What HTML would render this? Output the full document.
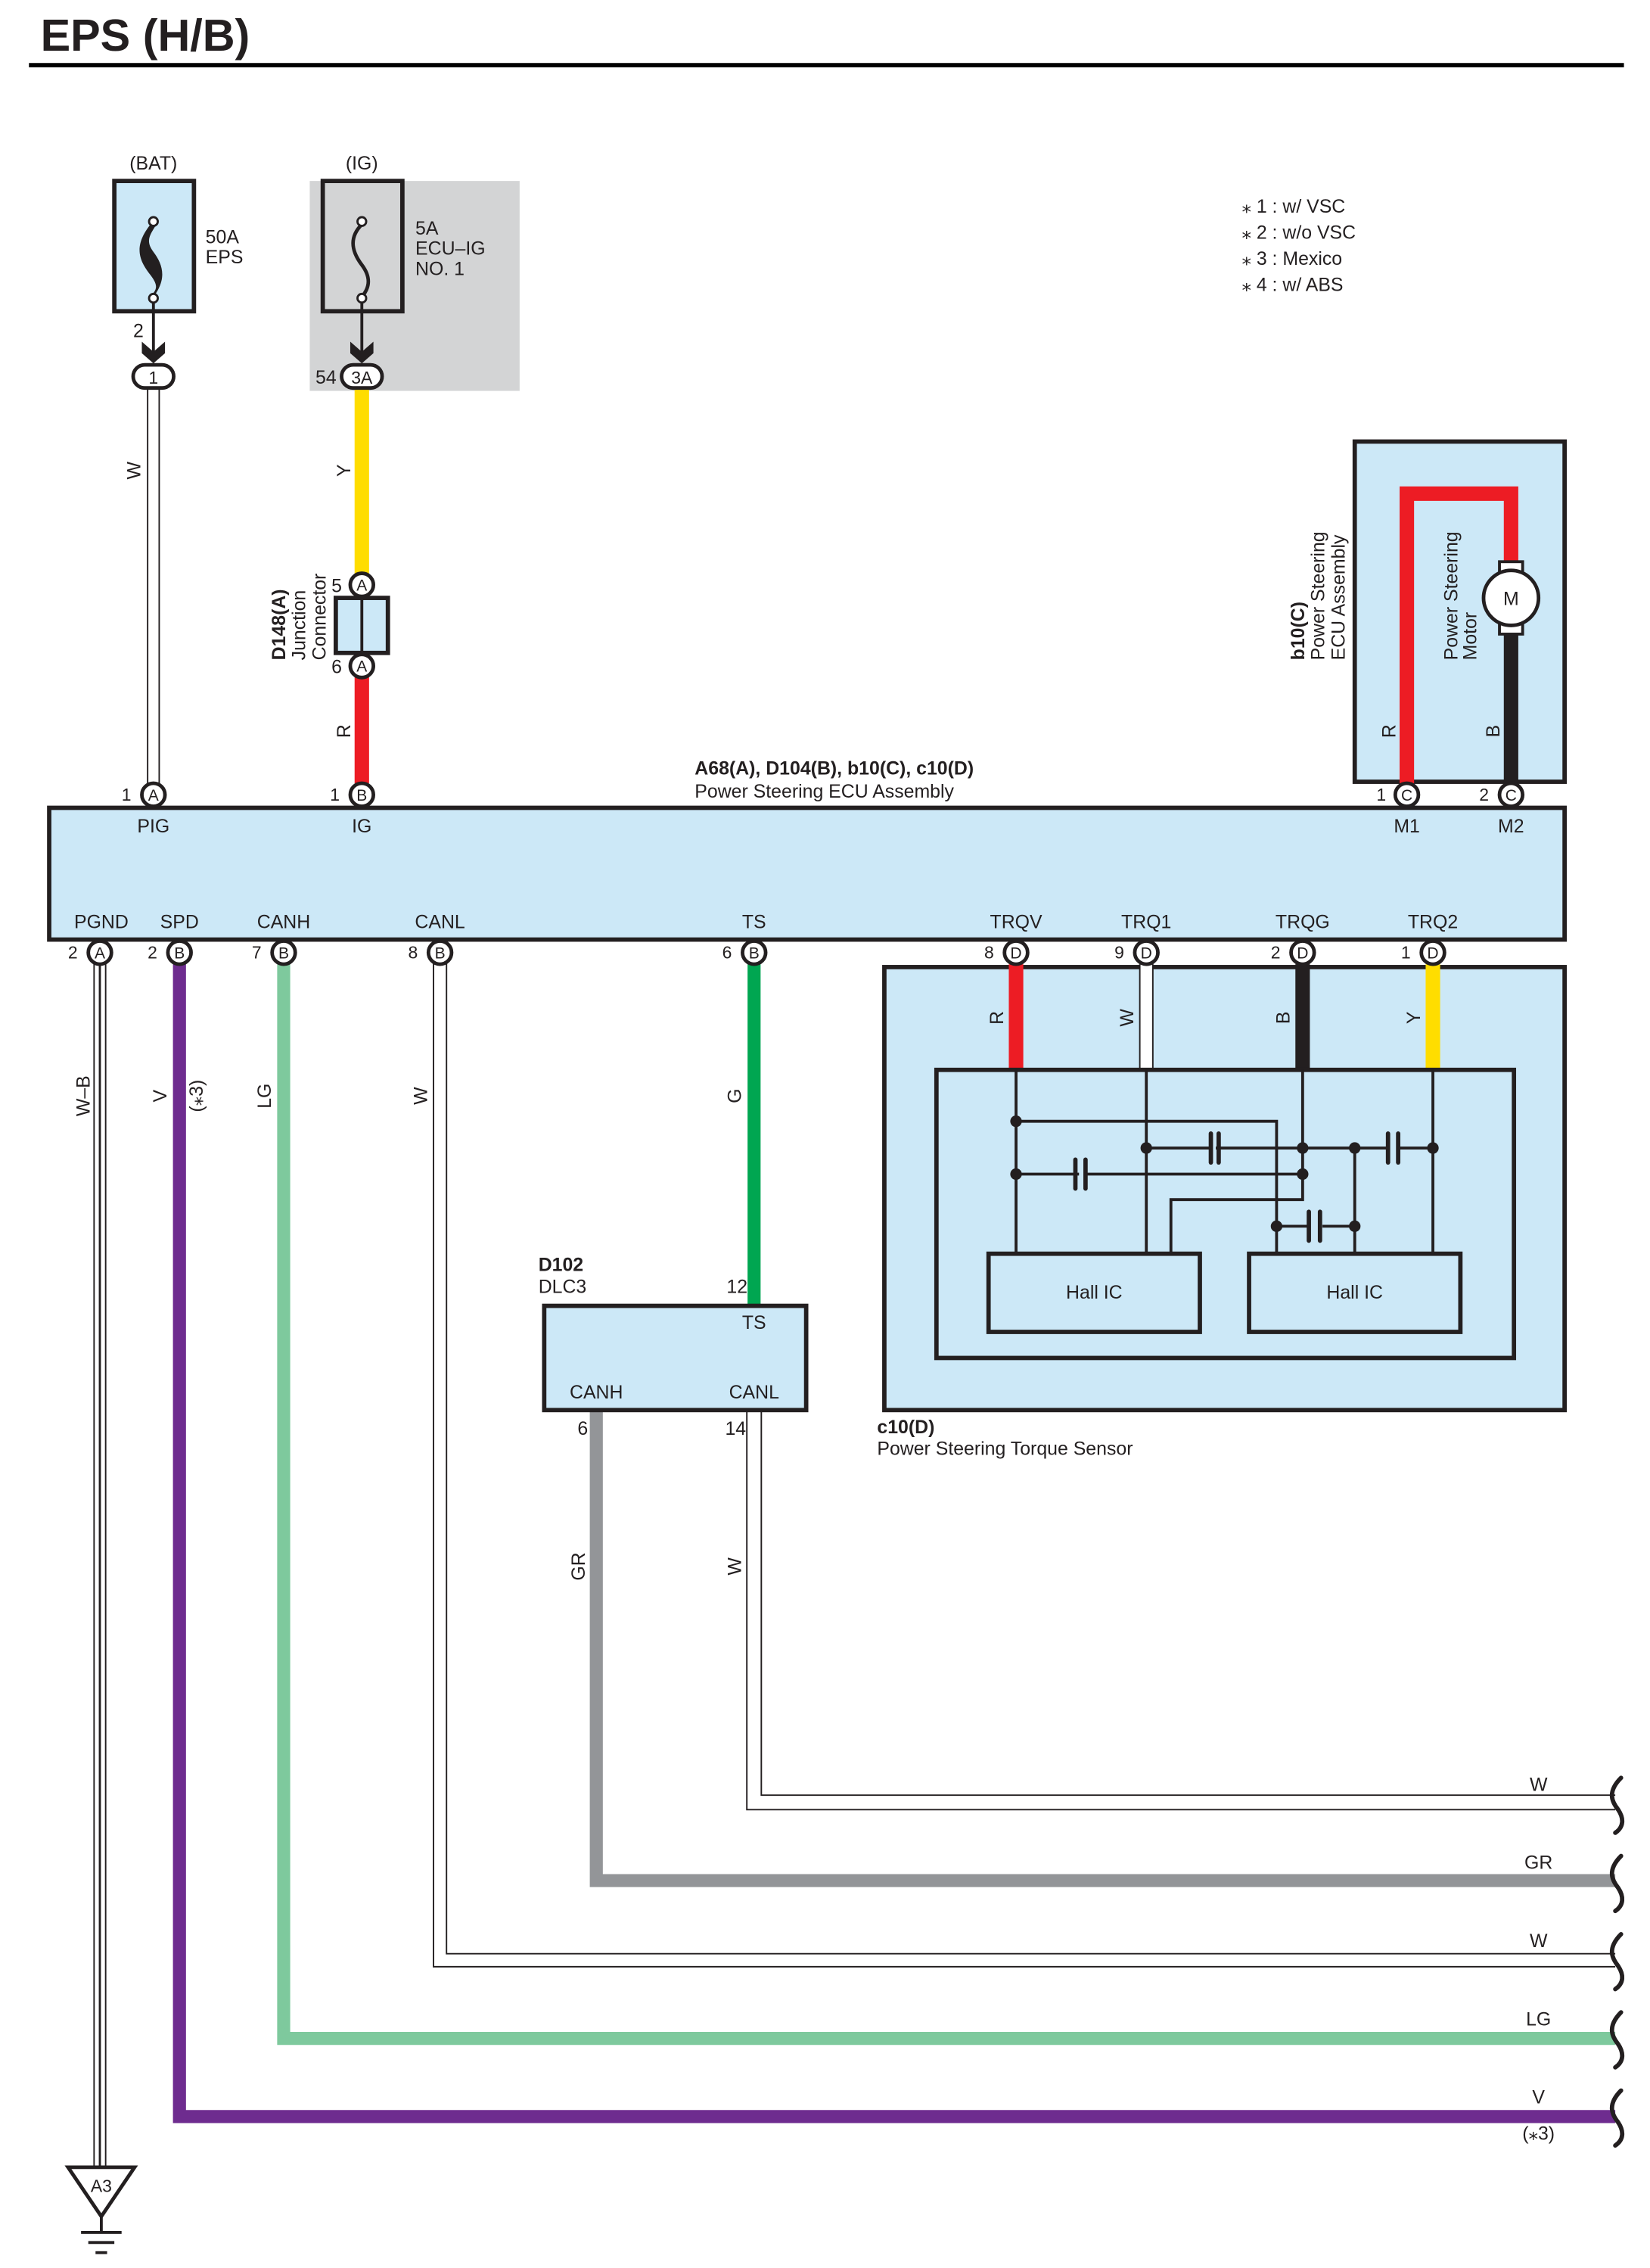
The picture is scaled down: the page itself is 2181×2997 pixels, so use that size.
<!DOCTYPE html>
<html><head><meta charset="utf-8"><style>
html,body{margin:0;padding:0;background:#fff}
svg{display:block}
text{font-family:"Liberation Sans",Arial,sans-serif;fill:#231f20}
</style></head><body>
<svg width="2181" height="2997" viewBox="0 0 1140 1566.6" preserveAspectRatio="none" xmlns="http://www.w3.org/2000/svg">
<g font-size="13">
<!-- title -->
<text x="28" y="35" font-size="31" font-weight="bold">EPS (H/B)</text>
<line x1="20" y1="45" x2="1122" y2="45" stroke="#000" stroke-width="3"/>

<!-- notes -->
<text x="858" y="147">⁎ 1 : w/ VSC</text>
<text x="858" y="165">⁎ 2 : w/o VSC</text>
<text x="858" y="183">⁎ 3 : Mexico</text>
<text x="858" y="201">⁎ 4 : w/ ABS</text>

<!-- BAT fuse -->
<text x="106" y="117" text-anchor="middle">(BAT)</text>
<rect x="79" y="125" width="55" height="90" fill="#cce8f7" stroke="#231f20" stroke-width="3"/>
<path d="M104,155 C92,170 96,180 104,190 C110,198 108,200 104,205 L106,205 C116,192 112,182 106,174 C100,166 104,162 108,155 Z" fill="#231f20"/>
<circle cx="106" cy="153" r="3" fill="#fff" stroke="#231f20" stroke-width="1.5"/>
<circle cx="106" cy="206" r="3" fill="#fff" stroke="#231f20" stroke-width="1.5"/>
<text x="142" y="168">50A</text><text x="142" y="182">EPS</text>
<line x1="106" y1="209" x2="106" y2="245" stroke="#231f20" stroke-width="2"/>
<path d="M98,236 L106,243 L114,236 L114,244 L106,251 L98,244 Z" fill="#231f20"/>
<text x="92" y="233">2</text>

<!-- IG fuse -->
<rect x="214" y="125" width="145" height="145" fill="#d3d4d5"/>
<text x="250" y="117" text-anchor="middle">(IG)</text>
<rect x="223" y="125" width="55" height="90" fill="#d3d4d5" stroke="#231f20" stroke-width="3"/>
<path d="M250,155 C240,165 244,175 250,183 C256,191 256,198 250,205" fill="none" stroke="#231f20" stroke-width="2.5"/>
<circle cx="250" cy="153" r="3" fill="#fff" stroke="#231f20" stroke-width="1.5"/>
<circle cx="250" cy="206" r="3" fill="#fff" stroke="#231f20" stroke-width="1.5"/>
<text x="287" y="162">5A</text><text x="287" y="176">ECU–IG</text><text x="287" y="190">NO. 1</text>
<line x1="250" y1="209" x2="250" y2="245" stroke="#231f20" stroke-width="2"/>
<path d="M242,236 L250,243 L258,236 L258,244 L250,251 L242,244 Z" fill="#231f20"/>

<!-- W wire PIG -->
<line x1="106" y1="268" x2="106" y2="541" stroke="#231f20" stroke-width="9"/>
<line x1="106" y1="268" x2="106" y2="541" stroke="#fff" stroke-width="7"/>
<rect x="92" y="252" width="28" height="16" rx="8" fill="#fff" stroke="#231f20" stroke-width="2.5"/>
<text x="106" y="265" text-anchor="middle" font-size="12">1</text>
<text transform="translate(97,325) rotate(-90)" text-anchor="middle">W</text>

<!-- Y wire -->
<line x1="250" y1="268" x2="250" y2="397" stroke="#ffdd00" stroke-width="10"/>
<rect x="236" y="252" width="28" height="16" rx="8" fill="#fff" stroke="#231f20" stroke-width="2.5"/>
<text x="250" y="265" text-anchor="middle" font-size="12">3A</text>
<text x="218" y="265">54</text>
<text transform="translate(242,325) rotate(-90)" text-anchor="middle">Y</text>

<!-- junction connector -->
<line x1="250" y1="465" x2="250" y2="541" stroke="#ed1c24" stroke-width="10"/>
<circle cx="250" cy="404" r="8" fill="#fff" stroke="#231f20" stroke-width="2.5"/>
<text x="250" y="408" text-anchor="middle" font-size="11">A</text>
<text x="229" y="409">5</text>
<line x1="250" y1="412" x2="250" y2="452" stroke="#231f20" stroke-width="2"/>
<rect x="232" y="413" width="36" height="38" fill="#cce8f7" stroke="#231f20" stroke-width="3"/>
<line x1="250" y1="413" x2="250" y2="451" stroke="#231f20" stroke-width="2"/>
<circle cx="250" cy="460" r="8" fill="#fff" stroke="#231f20" stroke-width="2.5"/>
<text x="250" y="464" text-anchor="middle" font-size="11">A</text>
<text x="229" y="465">6</text>
<text transform="translate(242,505) rotate(-90)" text-anchor="middle">R</text>
<text transform="translate(197,456) rotate(-90)" font-weight="bold">D148(A)</text>
<text transform="translate(211,456) rotate(-90)">Junction</text>
<text transform="translate(225,456) rotate(-90)">Connector</text>

<!-- motor box -->
<rect x="936" y="305" width="145" height="235" fill="#cce8f7" stroke="#231f20" stroke-width="3"/>
<path d="M972,541 L972,341 L1044,341 L1044,392" fill="none" stroke="#ed1c24" stroke-width="10"/>
<line x1="1044" y1="432" x2="1044" y2="541" stroke="#231f20" stroke-width="10"/>
<rect x="1036" y="388" width="16" height="7" fill="#fff" stroke="#231f20" stroke-width="2"/>
<rect x="1036" y="431" width="16" height="7" fill="#fff" stroke="#231f20" stroke-width="2"/>
<circle cx="1044" cy="413" r="19" fill="#fff" stroke="#231f20" stroke-width="2.5"/>
<text x="1044" y="418" text-anchor="middle">M</text>
<text transform="translate(964,505) rotate(-90)" text-anchor="middle">R</text>
<text transform="translate(1036,505) rotate(-90)" text-anchor="middle">B</text>
<text transform="translate(1007,456) rotate(-90)">Power Steering</text>
<text transform="translate(1020,456) rotate(-90)">Motor</text>
<text transform="translate(901,456) rotate(-90)" font-weight="bold">b10(C)</text>
<text transform="translate(915,456) rotate(-90)">Power Steering</text>
<text transform="translate(929,456) rotate(-90)">ECU Assembly</text>

<!-- ECU box -->
<text x="480" y="535" font-weight="bold">A68(A), D104(B), b10(C), c10(D)</text>
<text x="480" y="551">Power Steering ECU Assembly</text>
<rect x="34" y="558" width="1047" height="91" fill="#cce8f7" stroke="#231f20" stroke-width="3"/>
<text x="106" y="575" text-anchor="middle">PIG</text>
<text x="250" y="575" text-anchor="middle">IG</text>
<text x="972" y="575" text-anchor="middle">M1</text>
<text x="1044" y="575" text-anchor="middle">M2</text>
<g text-anchor="middle">
<text x="70" y="641">PGND</text><text x="124" y="641">SPD</text><text x="196" y="641">CANH</text>
<text x="304" y="641">CANL</text><text x="521" y="641">TS</text><text x="702" y="641">TRQV</text>
<text x="792" y="641">TRQ1</text><text x="900" y="641">TRQG</text><text x="990" y="641">TRQ2</text>
</g>

<!-- bottom wires -->
<line x1="69" y1="665" x2="69" y2="1498" stroke="#231f20" stroke-width="9"/>
<line x1="69" y1="665" x2="69" y2="1498" stroke="#fff" stroke-width="7"/>
<line x1="69" y1="665" x2="69" y2="1498" stroke="#231f20" stroke-width="1.5"/>
<text transform="translate(62,757) rotate(-90)" text-anchor="middle">W–B</text>
<path d="M124,665 L124,1462 L1116,1462" fill="none" stroke="#6e2c8f" stroke-width="9"/>
<text transform="translate(115,757) rotate(-90)" text-anchor="middle">V</text>
<text transform="translate(140,757) rotate(-90)" text-anchor="middle">(⁎3)</text>
<path d="M196,665 L196,1408 L1116,1408" fill="none" stroke="#7ec99d" stroke-width="9"/>
<text transform="translate(187,757) rotate(-90)" text-anchor="middle">LG</text>
<path d="M304,665 L304,1354 L1116,1354" fill="none" stroke="#231f20" stroke-width="10"/>
<path d="M304,665 L304,1354 L1118,1354" fill="none" stroke="#fff" stroke-width="8"/>
<text transform="translate(295,757) rotate(-90)" text-anchor="middle">W</text>
<line x1="521" y1="665" x2="521" y2="902" stroke="#00a651" stroke-width="9"/>
<text transform="translate(512,757) rotate(-90)" text-anchor="middle">G</text>

<!-- DLC3 -->
<text x="372" y="878" font-weight="bold">D102</text>
<text x="372" y="893">DLC3</text>
<text x="502" y="893">12</text>
<path d="M412,974 L412,1299 L1116,1299" fill="none" stroke="#939598" stroke-width="9"/>
<text transform="translate(404,1082) rotate(-90)" text-anchor="middle">GR</text>
<path d="M521,974 L521,1245 L1116,1245" fill="none" stroke="#231f20" stroke-width="11"/>
<path d="M521,974 L521,1245 L1118,1245" fill="none" stroke="#fff" stroke-width="9"/>
<text transform="translate(512,1082) rotate(-90)" text-anchor="middle">W</text>
<rect x="376" y="902" width="181" height="72" fill="#cce8f7" stroke="#231f20" stroke-width="3"/>
<text x="521" y="918" text-anchor="middle">TS</text>
<text x="412" y="966" text-anchor="middle">CANH</text>
<text x="521" y="966" text-anchor="middle">CANL</text>
<text x="399" y="991">6</text><text x="501" y="991">14</text>

<!-- right end labels -->
<g text-anchor="middle">
<text x="1063" y="1237">W</text><text x="1063" y="1291">GR</text><text x="1063" y="1345">W</text>
<text x="1063" y="1399">LG</text><text x="1063" y="1453">V</text><text x="1063" y="1478">(⁎3)</text>
</g>
<g fill="none" stroke="#231f20" stroke-width="3" stroke-linecap="round">
<path d="M1120,1228 C1110,1238 1114,1245 1118,1250 C1122,1256 1122,1262 1116,1266"/>
<path d="M1120,1282 C1110,1292 1114,1299 1118,1304 C1122,1310 1122,1316 1116,1320"/>
<path d="M1120,1336 C1110,1346 1114,1353 1118,1358 C1122,1364 1122,1370 1116,1374"/>
<path d="M1120,1390 C1110,1400 1114,1407 1118,1412 C1122,1418 1122,1424 1116,1428"/>
<path d="M1120,1444 C1110,1454 1114,1461 1118,1466 C1122,1472 1122,1478 1116,1482"/>
</g>

<!-- ground -->
<path d="M47,1497 L93,1497 L70,1531 Z" fill="#fff" stroke="#231f20" stroke-width="2.5"/>
<text x="70" y="1514" text-anchor="middle" font-size="12">A3</text>
<line x1="70" y1="1531" x2="70" y2="1541" stroke="#231f20" stroke-width="2"/>
<line x1="56" y1="1542" x2="84" y2="1542" stroke="#231f20" stroke-width="2"/>
<line x1="61" y1="1549" x2="79" y2="1549" stroke="#231f20" stroke-width="2"/>
<line x1="66" y1="1556" x2="74" y2="1556" stroke="#231f20" stroke-width="2"/>

<!-- torque sensor -->
<rect x="611" y="668" width="470" height="306" fill="#cce8f7" stroke="#231f20" stroke-width="3"/>
<line x1="702" y1="666" x2="702" y2="739" stroke="#ed1c24" stroke-width="10"/>
<line x1="792" y1="666" x2="792" y2="739" stroke="#231f20" stroke-width="10"/>
<line x1="792" y1="666" x2="792" y2="739" stroke="#fff" stroke-width="8"/>
<line x1="900" y1="666" x2="900" y2="739" stroke="#231f20" stroke-width="10"/>
<line x1="990" y1="666" x2="990" y2="739" stroke="#ffdd00" stroke-width="10"/>
<text transform="translate(693,703) rotate(-90)" text-anchor="middle">R</text>
<text transform="translate(783,703) rotate(-90)" text-anchor="middle">W</text>
<text transform="translate(891,703) rotate(-90)" text-anchor="middle">B</text>
<text transform="translate(981,703) rotate(-90)" text-anchor="middle">Y</text>
<rect x="647" y="739" width="399" height="199" fill="#cce8f7" stroke="#231f20" stroke-width="3"/>
<g fill="none" stroke="#231f20" stroke-width="2">
<line x1="702" y1="739" x2="702" y2="866"/>
<line x1="792" y1="739" x2="792" y2="866"/>
<line x1="990" y1="739" x2="990" y2="866"/>
<path d="M702,774.5 L882,774.5 L882,866"/>
<path d="M900,739 L900,828.6 L809,828.6 L809,866"/>
<line x1="936" y1="793" x2="936" y2="866"/>
<line x1="792" y1="793" x2="836.6" y2="793"/><line x1="840" y1="793" x2="959" y2="793"/><line x1="967" y1="793" x2="990" y2="793"/>
<line x1="702" y1="811" x2="745.5" y2="811"/><line x1="750" y1="811" x2="900" y2="811"/>
<line x1="882" y1="847" x2="904.3" y2="847"/><line x1="913.7" y1="847" x2="936" y2="847"/>
</g>
<g stroke="#231f20" stroke-width="3" stroke-linecap="round">
<line x1="836.6" y1="783" x2="836.6" y2="803"/><line x1="842" y1="783" x2="842" y2="803"/>
<line x1="959" y1="783" x2="959" y2="803"/><line x1="966" y1="783" x2="966" y2="803"/>
<line x1="743" y1="801" x2="743" y2="821"/><line x1="750" y1="801" x2="750" y2="821"/>
<line x1="904.3" y1="837" x2="904.3" y2="857"/><line x1="912" y1="837" x2="912" y2="857"/>
</g>
<g fill="#231f20">
<circle cx="702" cy="774.5" r="4"/><circle cx="702" cy="811" r="4"/><circle cx="792" cy="793" r="4"/>
<circle cx="900" cy="793" r="4"/><circle cx="936" cy="793" r="4"/><circle cx="990" cy="793" r="4"/>
<circle cx="900" cy="811" r="4"/><circle cx="882" cy="847" r="4"/><circle cx="936" cy="847" r="4"/>
</g>
<rect x="683" y="866" width="146" height="54" fill="#cce8f7" stroke="#231f20" stroke-width="3"/>
<rect x="863" y="866" width="146" height="54" fill="#cce8f7" stroke="#231f20" stroke-width="3"/>
<text x="756" y="897" text-anchor="middle">Hall IC</text>
<text x="936" y="897" text-anchor="middle">Hall IC</text>
<text x="606" y="990" font-weight="bold">c10(D)</text>
<text x="606" y="1005">Power Steering Torque Sensor</text>

<!-- connector circles -->
<g font-size="11" text-anchor="middle">
<circle cx="106" cy="549" r="8" fill="#fff" stroke="#231f20" stroke-width="2.5"/><text x="106" y="553">A</text>
<circle cx="250" cy="549" r="8" fill="#fff" stroke="#231f20" stroke-width="2.5"/><text x="250" y="553">B</text>
<circle cx="972" cy="549" r="8" fill="#fff" stroke="#231f20" stroke-width="2.5"/><text x="972" y="553">C</text>
<circle cx="1044" cy="549" r="8" fill="#fff" stroke="#231f20" stroke-width="2.5"/><text x="1044" y="553">C</text>
<circle cx="69" cy="658" r="8" fill="#fff" stroke="#231f20" stroke-width="2.5"/><text x="69" y="662">A</text>
<circle cx="124" cy="658" r="8" fill="#fff" stroke="#231f20" stroke-width="2.5"/><text x="124" y="662">B</text>
<circle cx="196" cy="658" r="8" fill="#fff" stroke="#231f20" stroke-width="2.5"/><text x="196" y="662">B</text>
<circle cx="304" cy="658" r="8" fill="#fff" stroke="#231f20" stroke-width="2.5"/><text x="304" y="662">B</text>
<circle cx="521" cy="658" r="8" fill="#fff" stroke="#231f20" stroke-width="2.5"/><text x="521" y="662">B</text>
<circle cx="702" cy="658" r="8" fill="#fff" stroke="#231f20" stroke-width="2.5"/><text x="702" y="662">D</text>
<circle cx="792" cy="658" r="8" fill="#fff" stroke="#231f20" stroke-width="2.5"/><text x="792" y="662">D</text>
<circle cx="900" cy="658" r="8" fill="#fff" stroke="#231f20" stroke-width="2.5"/><text x="900" y="662">D</text>
<circle cx="990" cy="658" r="8" fill="#fff" stroke="#231f20" stroke-width="2.5"/><text x="990" y="662">D</text>
</g>
<g font-size="12">
<text x="84" y="553">1</text><text x="228" y="553">1</text><text x="951" y="553">1</text><text x="1022" y="553">2</text>
<text x="47" y="662">2</text><text x="102" y="662">2</text><text x="174" y="662">7</text><text x="282" y="662">8</text>
<text x="499" y="662">6</text><text x="680" y="662">8</text><text x="770" y="662">9</text><text x="878" y="662">2</text><text x="968" y="662">1</text>
</g>
</g>
</svg>
</body></html>
